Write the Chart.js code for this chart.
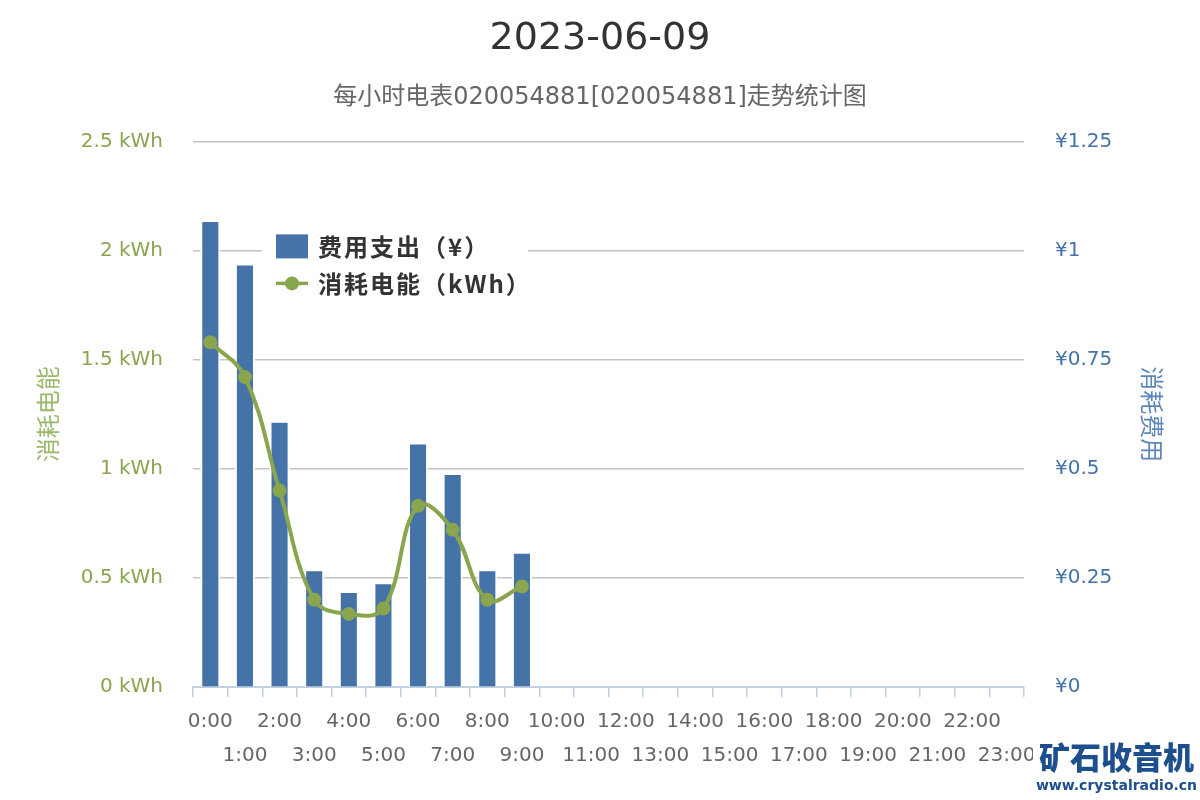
<!DOCTYPE html>
<html>
<head>
<meta charset="utf-8">
<script src="https://cdn.jsdelivr.net/npm/chart.js@4"></script>
<style>
  html, body { margin: 0; padding: 0; background: #fff; }
  #wrap { position: relative; width: 1200px; height: 800px; }
  #mark {
    position: absolute; left: 1033px; top: 736px; width: 167px; height: 64px;
    background: #fff; color: #1d4f8c; text-align: center; white-space: nowrap;
    font-family: "Noto Sans CJK SC", sans-serif;
  }
  #mark .cn { font-size: 31px; font-weight: 900; line-height: 40px; }
  #mark .en { font-family: "DejaVu Sans", sans-serif; font-size: 14px; font-weight: bold; line-height: 18px; }
</style>
</head>
<body>
<div id="wrap">
  <canvas id="grafico" width="1200" height="800"></canvas>
  <div id="mark"><div class="cn">矿石收音机</div><div class="en">www.crystalradio.cn</div></div>
</div>
<script>
const horas = ["0:00", "1:00", "2:00", "3:00", "4:00", "5:00", "6:00", "7:00", "8:00", "9:00", "10:00", "11:00",
  "12:00", "13:00", "14:00", "15:00", "16:00", "17:00", "18:00", "19:00", "20:00", "21:00", "22:00", "23:00"];
// 费用 (¥), right axis
const custo = [1.07, 0.97, 0.61, 0.27, 0.22, 0.24, 0.56, 0.49, 0.27, 0.31,
  null, null, null, null, null, null, null, null, null, null, null, null, null, null];
// 电能 (kWh), left axis
const energia = [1.58, 1.42, 0.90, 0.40, 0.335, 0.36, 0.83, 0.72, 0.40, 0.46,
  null, null, null, null, null, null, null, null, null, null, null, null, null, null];

const verde = "#89A54E";
const azul = "#4572A7";
const fonte = "'DejaVu Sans', 'Noto Sans CJK SC', sans-serif";

// labels em duas linhas alternadas
const rotulos = horas.map((h, i) => (i % 2 === 0 ? h : ["", h]));

// legenda dentro da área do gráfico
const legendaInterna = {
  id: "legendaInterna",
  afterDatasetsDraw(chart) {
    const { ctx, chartArea } = chart;
    const x = chartArea.left + 83;
    const y = chartArea.top + 105;
    ctx.save();
    ctx.fillStyle = "#fff";
    ctx.fillRect(x - 14, y - 20, 266, 74);
    ctx.font = "600 24px 'Noto Sans CJK SC', sans-serif";
    ctx.letterSpacing = "2px";
    ctx.textBaseline = "middle";
    const barra = chart.data.datasets[1];
    const linha = chart.data.datasets[0];
    ctx.fillStyle = barra.backgroundColor;
    ctx.fillRect(x, y - 12, 32, 24);
    ctx.fillStyle = "#333";
    ctx.fillText(barra.label, x + 42, y);
    const y2 = y + 37;
    ctx.strokeStyle = linha.borderColor;
    ctx.lineWidth = 3.5;
    ctx.beginPath();
    ctx.moveTo(x, y2);
    ctx.lineTo(x + 32, y2);
    ctx.stroke();
    ctx.fillStyle = linha.borderColor;
    ctx.beginPath();
    ctx.arc(x + 16, y2, 7, 0, Math.PI * 2);
    ctx.fill();
    ctx.fillStyle = "#333";
    ctx.fillText(linha.label, x + 42, y2);
    ctx.restore();
  }
};

new Chart(document.getElementById("grafico"), {
  data: {
    labels: rotulos,
    datasets: [{
      type: "line",
      label: "消耗电能（kWh）",
      data: energia,
      yAxisID: "y",
      borderColor: verde,
      backgroundColor: verde,
      borderWidth: 4,
      pointRadius: 7,
      pointBorderWidth: 0,
      pointBackgroundColor: verde,
      tension: 0.4,
      order: 0
    }, {
      type: "bar",
      label: "费用支出（¥）",
      data: custo,
      yAxisID: "y1",
      backgroundColor: azul,
      borderColor: "#fff",
      borderWidth: 2,
      categoryPercentage: 1,
      barPercentage: 0.58,
      order: 1
    }]
  },
  options: {
    responsive: false,
    animation: false,
    layout: { padding: 0 },
    plugins: {
      legend: { display: false },
      tooltip: { enabled: false },
      title: {
        display: true,
        text: "2023-06-09",
        color: "#333",
        font: { family: fonte, size: 38, weight: "normal", lineHeight: 1.2 },
        padding: { top: 16, bottom: 10 }
      },
      subtitle: {
        display: true,
        text: "每小时电表020054881[020054881]走势统计图",
        color: "#666",
        font: { family: fonte, size: 24, weight: "normal", lineHeight: 1.2 },
        padding: { top: 12, bottom: 29 }
      }
    },
    scales: {
      x: {
        grid: { drawOnChartArea: false, drawTicks: true, tickLength: 10, color: "#C0D0E0", lineWidth: 1.5, offset: true },
        border: { color: "#C0D0E0", width: 2 },
        ticks: {
          autoSkip: false, maxRotation: 0, minRotation: 0, padding: 8, color: "#666",
          font: { family: fonte, size: 20, lineHeight: 1.7 }
        },
        afterFit(s) { s.height = 113; }
      },
      y: {
        position: "left",
        min: 0, max: 2.5,
        grid: { color: "#C4C4C4", lineWidth: 1.5, drawTicks: false },
        border: { display: false },
        ticks: {
          stepSize: 0.5, padding: 30, color: verde,
          font: { family: fonte, size: 20 },
          callback: v => Math.round(v * 100) / 100 + " kWh"
        },
        title: {
          display: true, text: "消耗电能", color: "#9DB86A",
          font: { family: "'Noto Sans CJK SC', sans-serif", size: 24, lineHeight: 1.2 },
          padding: { top: 33, bottom: 0 }
        },
        afterFit(s) { s.width = 193; }
      },
      y1: {
        position: "right",
        min: 0, max: 1.25,
        grid: { drawOnChartArea: false, drawTicks: false },
        border: { display: false },
        ticks: {
          stepSize: 0.25, padding: 31, color: azul,
          font: { family: fonte, size: 20 },
          callback: v => "¥" + Math.round(v * 100) / 100
        },
        title: {
          display: true, text: "消耗费用", color: "#5F86B8",
          font: { family: "'Noto Sans CJK SC', sans-serif", size: 24, lineHeight: 1.2 },
          padding: { top: 33, bottom: 0 }
        },
        afterFit(s) { s.width = 176; }
      }
    }
  },
  plugins: [legendaInterna]
});
</script>
</body>
</html>
